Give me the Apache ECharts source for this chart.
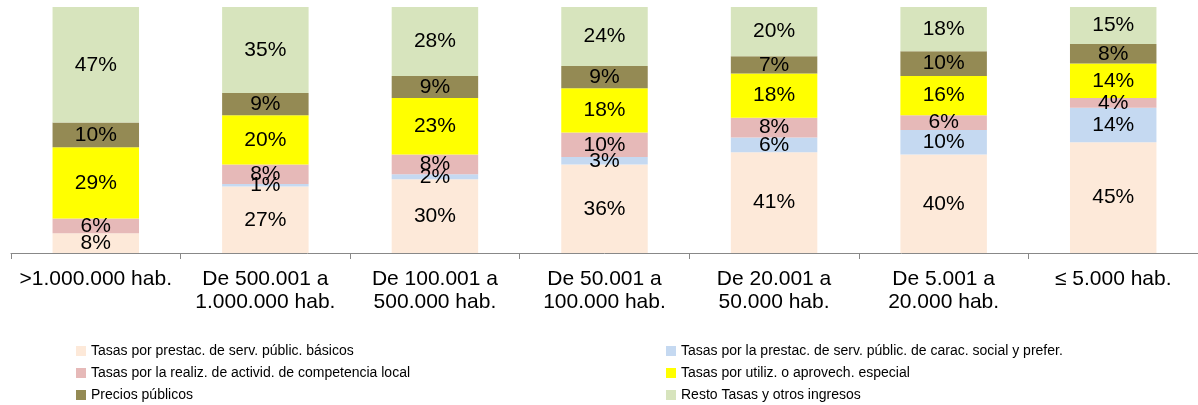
<!DOCTYPE html>
<html>
<head>
<meta charset="utf-8">
<script src="https://cdn.jsdelivr.net/npm/echarts@6/dist/echarts.min.js"></script>
<style>
  html, body { margin: 0; padding: 0; background: #fff; }
  #chart { width: 1198px; height: 405px; }
</style>
</head>
<body>
<div id="chart"></div>
<script>
// 分类 (tramos de población)
const categories = [
    '>1.000.000 hab.',
    'De 500.001 a\n1.000.000 hab.',
    'De 100.001 a\n500.000 hab.',
    'De 50.001 a\n100.000 hab.',
    'De 20.001 a\n50.000 hab.',
    'De 5.001 a\n20.000 hab.',
    '≤ 5.000 hab.'
];

const seriesNames = [
    'Tasas por prestac. de serv. públic. básicos',
    'Tasas por la prestac. de serv. públic. de carac. social y prefer.',
    'Tasas por la realiz. de activid. de competencia local',
    'Tasas por utiliz. o aprovech. especial',
    'Precios públicos',
    'Resto Tasas y otros ingresos'
];

const basicos   = [8, 27, 30, 36, 41, 40, 45];
const social    = [0, 1, 2, 3, 6, 10, 14];
const actividad = [6, 8, 8, 10, 8, 6, 4];
const especial  = [29, 20, 23, 18, 18, 16, 14];
const precios   = [10, 9, 9, 9, 7, 10, 8];
const resto     = [47, 35, 28, 24, 20, 18, 15];

const colors = ['#fde9d9', '#c5d9f1', '#e6b9b8', '#ffff00', '#948a54', '#d7e4bd'];

const dataSets = [basicos, social, actividad, especial, precios, resto];

// una leyenda por elemento: 2 columnas x 3 filas
const legendLeft = [76, 666];
const legendTop = [344, 366, 388];

const chart = echarts.init(document.getElementById('chart'));

const option = {
    backgroundColor: '#fff',
    animation: false,
    color: colors,
    grid: { left: 11, right: 0, top: 7, bottom: 152 },
    legend: seriesNames.map((name, i) => ({
        left: legendLeft[i % 2],
        top: legendTop[Math.floor(i / 2)],
        padding: 0,
        itemWidth: 10, itemHeight: 10,
        icon: 'rect',
        textStyle: { color: '#000', fontSize: 14, fontFamily: 'Liberation Sans' },
        data: [name]
    })),
    xAxis: {
        type: 'category',
        data: categories,
        axisLine: { lineStyle: { color: '#888', width: 1 } },
        axisTick: { show: true, length: 6, lineStyle: { color: '#888' } },
        axisLabel: {
            color: '#000', fontSize: 21, lineHeight: 23, margin: 15,
            fontFamily: 'Liberation Sans', interval: 0
        }
    },
    yAxis: {
        type: 'value', min: 0, max: 100,
        show: false,
        splitLine: { show: false }
    },
    series: dataSets.map((d, i) => ({
        name: seriesNames[i],
        type: 'bar',
        stack: 'total',
        barWidth: '51%',
        data: d,
        itemStyle: { color: colors[i] },
        label: {
            show: true, position: 'inside',
            color: '#000', fontSize: 21, fontFamily: 'Liberation Sans',
            formatter: (p) => p.value > 0 ? `${p.value}%` : ''
        },
        emphasis: { disabled: true }
    }))
};
chart.setOption(option);
</script>
</body>
</html>
